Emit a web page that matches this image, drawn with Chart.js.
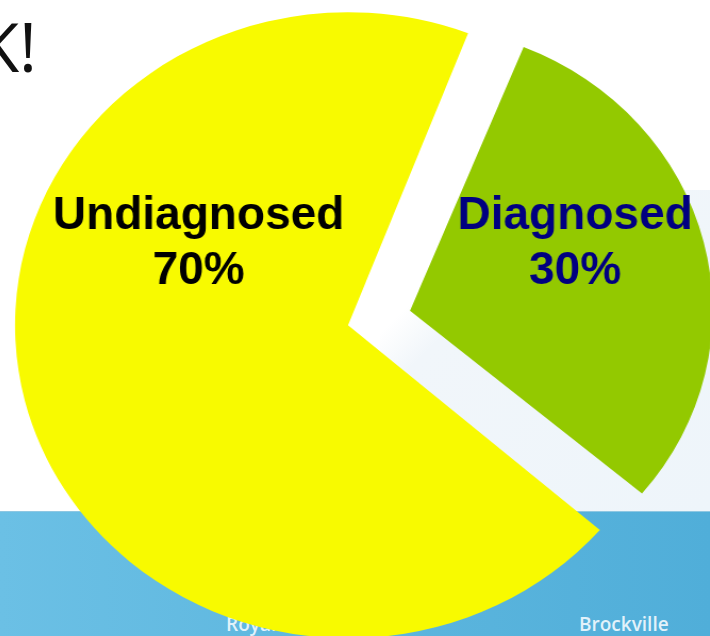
<!DOCTYPE html>
<html>
<head>
<meta charset="utf-8">
<script src="https://cdn.jsdelivr.net/npm/chart.js@4/dist/chart.umd.min.js"></script>
<style>
html,body{margin:0;padding:0;width:710px;height:636px;overflow:hidden;background:#fff;}
#stage{position:relative;width:710px;height:636px;overflow:hidden;background:#fff;}
#panel{position:absolute;left:380px;top:190px;width:330px;height:321px;
  background:linear-gradient(135deg,#ffffff 0%,#ffffff 22%,#f1f6fa 32%,#eef5fa 100%);}
#band{position:absolute;left:0;top:511px;width:710px;height:125px;
  background:linear-gradient(90deg,#6bc0e5 0%,#5db6de 50%,#50aed9 100%);
  border-top:1px solid #8ec7e2;box-sizing:border-box;}
#title{position:absolute;right:673px;top:11.6px;font:400 68px "Open Sans";line-height:68px;color:#111;white-space:nowrap;}
.foot{position:absolute;top:615px;font:600 19px "Open Sans";line-height:19px;color:#e2f2fa;white-space:nowrap;}
#wrap{position:absolute;width:800px;height:800px;transform-origin:50% 50%;}
</style>
</head>
<body>
<div id="stage">
  <div id="panel"></div>
  <div id="band"></div>
  <div id="title">K!</div>
  <div class="foot" style="left:226px;">Royal Ottawa</div>
  <div class="foot" style="left:579px;">Brockville</div>
  <div id="wrap"><canvas id="c" width="800" height="800"></canvas></div>
</div>
<script>
// ---- data ----
const categories = ['Undiagnosed', 'Diagnosed'];
const shares = [70, 30];            // percent of people
const sliceColors = ['#f8fa00', '#93c900'];
const labelColors = ['#000000', '#000080'];

// ---- layout ----
const STRETCH = 1.064;              // reference pie is slightly wider than tall
const CENTER = {x: 379.4, y: 317.5};
const EXPLODE = 120;                // Chart.js shifts each slice by offset/4 and grows it by offset/4
const DRAWN_RADIUS = 313;
const wrap = document.getElementById('wrap');
wrap.style.left = (CENTER.x - 400) + 'px';
wrap.style.top = (CENTER.y - 400) + 'px';
wrap.style.transform = 'scaleX(' + STRETCH + ')';

const sliceLabels = {
  id: 'sliceLabels',
  afterDatasetsDraw(chart, args, opts) {
    const ctx = chart.ctx;
    const meta = chart.getDatasetMeta(0);
    meta.data.forEach((arc, i) => {
      const p = arc.getProps(['x', 'y', 'startAngle', 'endAngle', 'outerRadius'], true);
      const mid = (p.startAngle + p.endAngle) / 2;
      const off = (arc.options.offset || 0) / 4;
      const vx = p.x + Math.cos(mid) * off;
      const vy = p.y + Math.sin(mid) * off;
      const a = opts.angles[i] * Math.PI / 180;
      const d = opts.dists[i] * (p.outerRadius + off);
      const lx = vx + Math.sin(a) * d;
      const ly = vy - Math.cos(a) * d;
      ctx.save();
      ctx.translate(lx, ly);
      ctx.scale(1 / STRETCH, 1);
      ctx.font = 'bold 46px "Liberation Sans", Arial, sans-serif';
      ctx.textAlign = 'center';
      ctx.textBaseline = 'alphabetic';
      ctx.fillStyle = labelColors[i];
      ctx.fillText(categories[i], 0, -11);
      ctx.fillText(shares[i] + '%', 0, 44);
      ctx.restore();
    });
  }
};

new Chart(document.getElementById('c'), {
  type: 'pie',
  data: {
    labels: categories,
    datasets: [{
      data: shares,
      backgroundColor: sliceColors,
      borderWidth: 0,
      offset: [EXPLODE, EXPLODE]
    }]
  },
  options: {
    responsive: false,
    animation: false,
    events: [],
    rotation: 130,
    radius: DRAWN_RADIUS - EXPLODE / 4,
    layout: {padding: 0},
    plugins: {
      legend: {display: false},
      tooltip: {enabled: false},
      sliceLabels: {angles: [301.3, 65.5], dists: [0.525, 0.545]}
    }
  },
  plugins: [sliceLabels]
});
</script>
</body>
</html>
